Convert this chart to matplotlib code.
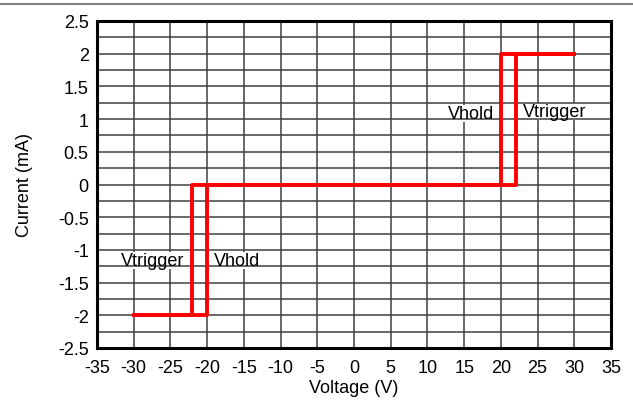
import numpy as np
import matplotlib.pyplot as plt
from matplotlib.lines import Line2D

plt.rcParams['font.family'] = ['Liberation Sans', 'DejaVu Sans']
plt.rcParams['axes.unicode_minus'] = False

# --- Datos ---
# rama 1: dispara en +22, mantiene en -20
v_rama1 = [-30, -20, -20, 22, 22, 30]
i_rama1 = [-2, -2, 0, 0, 2, 2]
# rama 2: dispara en -22, mantiene en +20
v_rama2 = [-30, -22, -22, 20, 20, 30]
i_rama2 = [-2, -2, 0, 0, 2, 2]

etiquetas = ['Vtrigger', 'Vhold', 'Vhold', 'Vtrigger']
etiq_x = [-27.4, -15.9, 16.0, 27.3]
etiq_y = [-1.16, -1.16, 1.09, 1.12]

x_ticks = np.arange(-35, 36, 5)
y_ticks = np.arange(-2.5, 2.51, 0.5)
y_grid = np.arange(-2.5, 2.51, 0.25)

fig = plt.figure(figsize=(6.33, 4.02), dpi=100)
ax = fig.add_axes([97 / 633, 1 - 349 / 402, 514 / 633, 327 / 402])

# --- Grilla (verticales debajo del fondo de las etiquetas, horizontales encima) ---
for x in x_ticks:
    ax.axvline(x, color='#404040', lw=1.1, zorder=1)
for y in y_grid:
    ax.axhline(y, color='#404040', lw=1.1, zorder=2)

ax.plot(v_rama1, i_rama1, color='#ff0000', lw=2.8, zorder=3)
ax.plot(v_rama2, i_rama2, color='#ff0000', lw=2.8, zorder=3)

for t, x, y in zip(etiquetas, etiq_x, etiq_y):
    ax.text(x, y, t, ha='center', va='center', fontsize=13, zorder=1.5, color='white',
            bbox=dict(facecolor='white', edgecolor='none', pad=0))
    ax.text(x, y, t, ha='center', va='center', fontsize=13, zorder=4)

ax.set_xlim(-35, 35)
ax.set_ylim(-2.5, 2.5)
ax.set_xticks(x_ticks)
ax.set_yticks(y_ticks)
ax.set_yticklabels([f'{v:g}' for v in y_ticks])
ax.tick_params(length=0, labelsize=13)
ax.tick_params(axis='x', pad=8)
ax.tick_params(axis='y', pad=6)
for s in ax.spines.values():
    s.set_linewidth(2.2)
    s.set_color('black')
    s.set_zorder(5)

ax.set_xlabel('Voltage (V)', fontsize=13, labelpad=2)
ax.set_ylabel('Current (mA)', fontsize=13, labelpad=18)

# línea gris superior
fig.add_artist(Line2D([0, 1], [1 - 5 / 402, 1 - 5 / 402], color='#808080', lw=1.5))

plt.savefig('out.png', dpi=100)
